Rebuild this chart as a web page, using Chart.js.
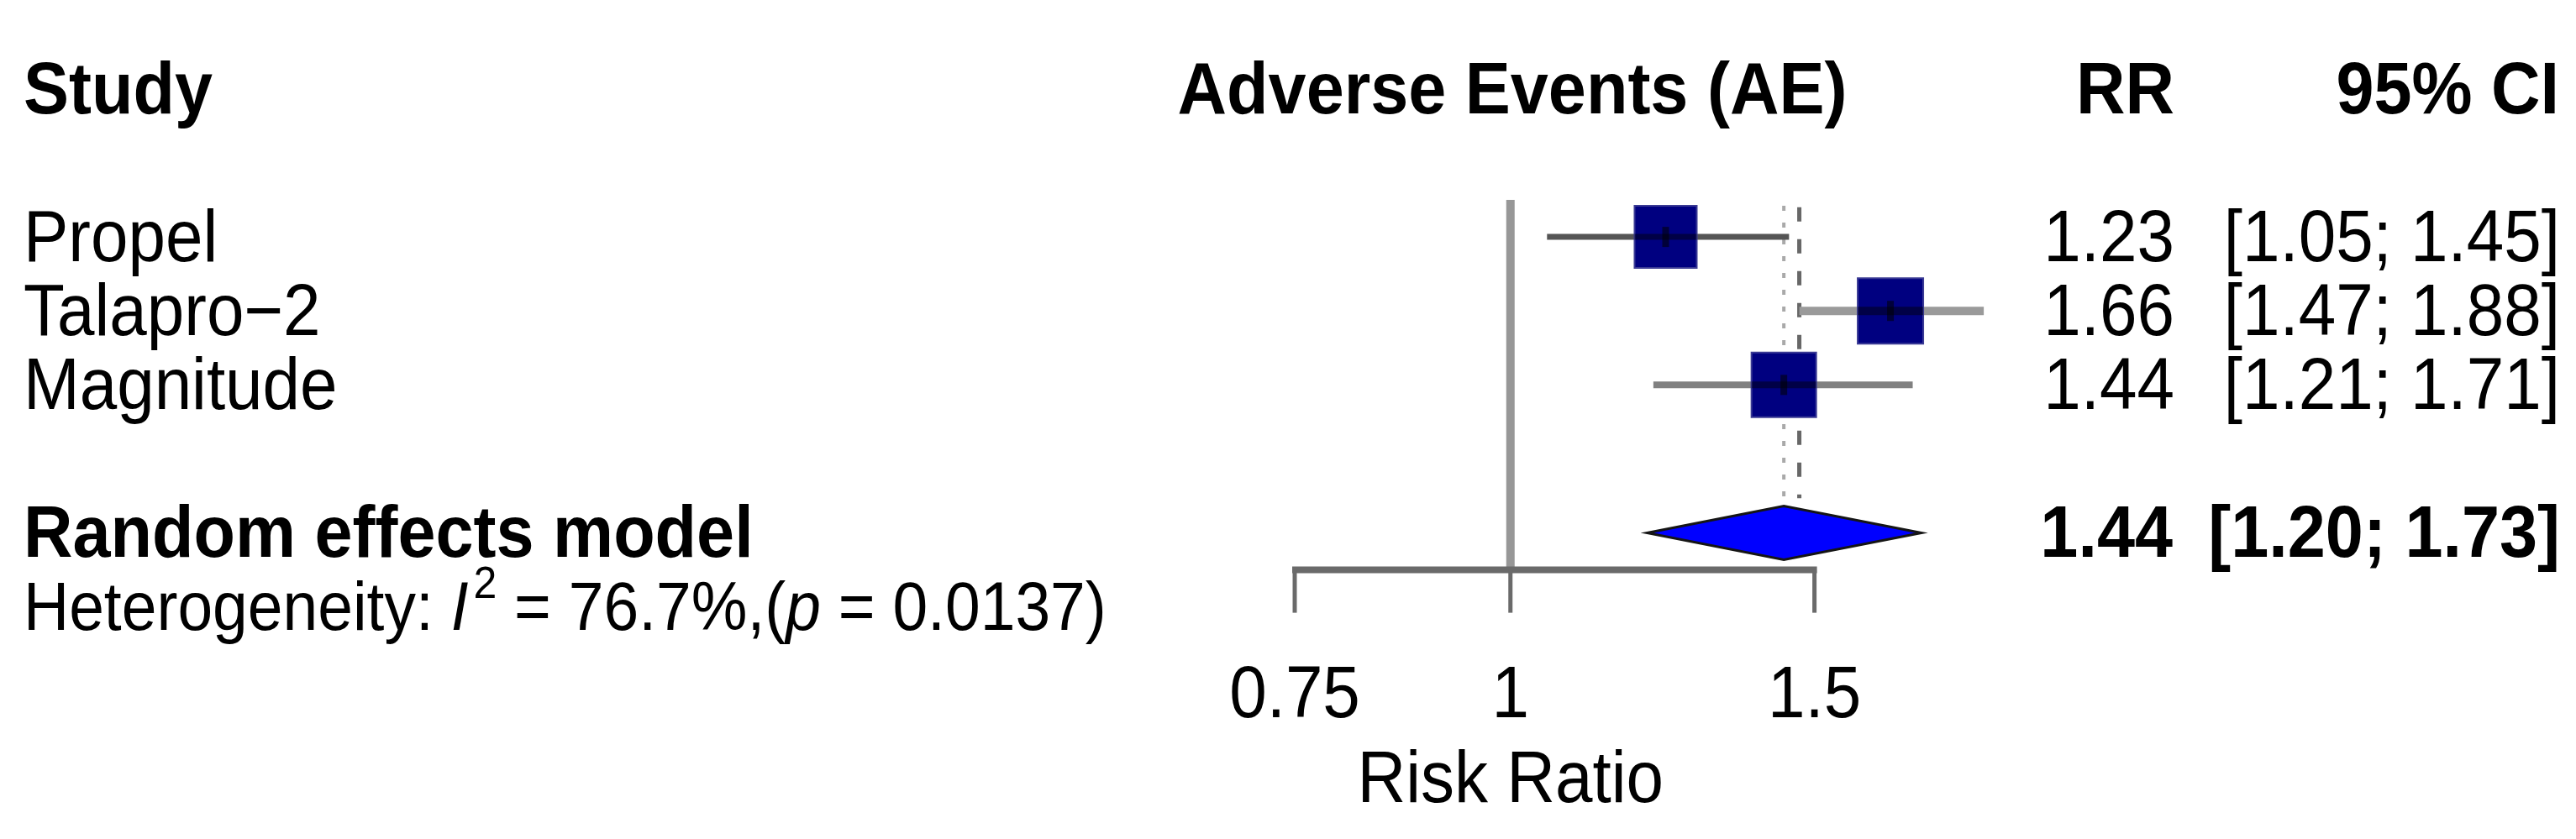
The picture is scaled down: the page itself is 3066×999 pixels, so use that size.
<!DOCTYPE html>
<html>
<head>
<meta charset="utf-8">
<script src="https://cdn.jsdelivr.net/npm/chart.js@4.4.1/dist/chart.umd.min.js"></script>
<style>
html,body{margin:0;padding:0;background:#ffffff;overflow:hidden;}
#wrap{width:3066px;height:999px;position:relative;}
</style>
</head>
<body>
<div id="wrap"><canvas id="c"></canvas></div>
<script>
// ---- data ----
const studies = ['Propel', 'Talapro\u22122', 'Magnitude'];
const rr = [1.23, 1.66, 1.44];
const ciLow = [1.05, 1.47, 1.21];
const ciHigh = [1.45, 1.88, 1.71];
const pooledLabel = 'Random effects model';
const pooledRR = 1.44;
const pooledLow = 1.20;
const pooledHigh = 1.73;
const commonRR = 1.47;
const i2Value = '76.7%';
const pValue = '0.0137';
const axisTicks = [0.75, 1, 1.5];
const axisTickLabels = ['0.75', '1', '1.5'];
const headers = ['Study', 'Adverse Events (AE)', 'RR', '95% CI'];
const xLabel = 'Risk Ratio';

// ---- layout (rows on the y scale) ----
const studyRows = [1, 2, 3];
const headerRow = -1, pooledRow = 5, hetRow = 6, axisRow = 5.5;

const ciColors = ['#555555', '#9a9a9a', '#808080'];
const ciWidths = [7, 10, 8];
const sqSides = [74, 78, 77];
const SY = 1.08;
const FF = '"Liberation Sans", Arial, Helvetica, sans-serif';

function txt(ctx, s, x, yb, font, align) {
  ctx.save();
  ctx.font = font;
  ctx.fillStyle = '#000';
  ctx.textAlign = align || 'left';
  ctx.textBaseline = 'alphabetic';
  ctx.translate(x, yb);
  ctx.scale(1, SY);
  ctx.fillText(s, 0, 0);
  ctx.restore();
}
function w(ctx, s, font) { ctx.save(); ctx.font = font; const m = ctx.measureText(s).width; ctx.restore(); return m; }

const forestPlugin = {
  id: 'forest',
  afterDatasetsDraw(chart) {
    const ctx = chart.ctx;
    const x = chart.scales.x, y = chart.scales.y;
    const B = 'bold 81px ' + FF, N = '80px ' + FF;
    const cap = 0.716 * 80 * SY / 2;
    const base = r => y.getPixelForValue(r) - 2 + cap;

    // dark band + centre tick over squares
    studies.forEach((s, i) => {
      const cx = x.getPixelForValue(rr[i]), cy = y.getPixelForValue(studyRows[i]);
      const h = sqSides[i] / 2;
      ctx.save();
      ctx.strokeStyle = 'rgba(0,0,0,0.45)';
      ctx.lineWidth = ciWidths[i];
      ctx.beginPath(); ctx.moveTo(cx - h, cy); ctx.lineTo(cx + h, cy); ctx.stroke();
      ctx.fillStyle = 'rgba(0,0,0,0.55)';
      ctx.fillRect(cx - 4, cy - 12, 8, 24);
      ctx.restore();
    });

    // diamond
    const dy = y.getPixelForValue(pooledRow);
    const dh = 32;
    ctx.save();
    ctx.beginPath();
    ctx.moveTo(x.getPixelForValue(pooledLow), dy);
    ctx.lineTo(x.getPixelForValue(pooledRR), dy - dh);
    ctx.lineTo(x.getPixelForValue(pooledHigh), dy);
    ctx.lineTo(x.getPixelForValue(pooledRR), dy + dh);
    ctx.closePath();
    ctx.fillStyle = '#0000ff';
    ctx.fill();
    ctx.strokeStyle = '#151515';
    ctx.lineWidth = 3;
    ctx.stroke();
    ctx.restore();

    // axis
    const ay = y.getPixelForValue(axisRow);
    ctx.save();
    ctx.strokeStyle = '#6a6a6a';
    ctx.lineWidth = 8;
    ctx.lineCap = 'butt';
    ctx.beginPath();
    ctx.moveTo(x.getPixelForValue(axisTicks[0]) - 3, ay);
    ctx.lineTo(x.getPixelForValue(axisTicks[axisTicks.length - 1]) + 3, ay);
    ctx.stroke();
    ctx.lineWidth = 5;
    axisTicks.forEach(t => {
      const tx = x.getPixelForValue(t);
      ctx.beginPath(); ctx.moveTo(tx, ay); ctx.lineTo(tx, ay + 51); ctx.stroke();
    });
    ctx.restore();
    axisTicks.forEach((t, i) => txt(ctx, axisTickLabels[i], x.getPixelForValue(t), ay + 175, N, 'center'));
    txt(ctx, xLabel, x.getPixelForValue(1), ay + 276, N, 'center');

    // headers
    const hb = base(headerRow);
    txt(ctx, headers[0], 28, hb, B, 'left');
    txt(ctx, headers[1], 1800, hb, B, 'center');
    txt(ctx, headers[2], 2588, hb, B, 'right');
    txt(ctx, headers[3], 3046, hb, B, 'right');

    // study rows
    studies.forEach((s, i) => {
      const b = base(studyRows[i]);
      txt(ctx, s, 28, b, N, 'left');
      txt(ctx, rr[i].toFixed(2), 2588, b, N, 'right');
      txt(ctx, '[' + ciLow[i].toFixed(2) + '; ' + ciHigh[i].toFixed(2) + ']', 3047, b, N, 'right');
    });

    // pooled row
    const pb = base(pooledRow);
    txt(ctx, pooledLabel, 28, pb, B, 'left');
    txt(ctx, pooledRR.toFixed(2), 2586, pb, B, 'right');
    txt(ctx, '[' + pooledLow.toFixed(2) + '; ' + pooledHigh.toFixed(2) + ']', 3047, pb, B, 'right');

    // heterogeneity
    const H = '75px ' + FF, HI = 'italic 75px ' + FF, HS = '50px ' + FF;
    const hbase = y.getPixelForValue(hetRow) - 2 + 0.716 * 75 * SY / 2;
    let cx = 28;
    const seg = (s, f, dyb) => { txt(ctx, s, cx, hbase + (dyb || 0), f, 'left'); cx += w(ctx, s, f); };
    seg('Heterogeneity: ', H);
    seg('I', HI);
    cx += 6;
    seg('2', HS, -38);
    seg(' = ' + i2Value + ',(', H);
    seg('p', HI);
    seg(' = ' + pValue + ')', H);
  }
};

const datasets = [
  {
    type: 'scatter', label: 'Studies',
    data: rr.map((v, i) => ({x: v, y: studyRows[i]})),
    pointStyle: 'rect',
    pointRadius: sqSides.map(s => s / Math.SQRT2),
    pointHoverRadius: sqSides.map(s => s / Math.SQRT2),
    backgroundColor: '#000080',
    borderColor: '#3a3a94',
    borderWidth: 2,
    order: 0, clip: false
  },
  ...studies.map((s, i) => ({
    type: 'line', label: s + ' CI',
    data: [{x: ciLow[i], y: studyRows[i]}, {x: ciHigh[i], y: studyRows[i]}],
    borderColor: ciColors[i], borderWidth: ciWidths[i], borderCapStyle: 'butt',
    pointRadius: 0, order: 1, clip: false
  })),
  {
    type: 'line', label: 'Random effect',
    data: [{x: pooledRR, y: 0.58}, {x: pooledRR, y: 4.68}],
    borderColor: '#a9a9a9', borderWidth: 4, borderDash: [6, 14], borderCapStyle: 'butt',
    pointRadius: 0, order: 2, clip: false
  },
  {
    type: 'line', label: 'Common effect',
    data: [{x: commonRR, y: 0.6}, {x: commonRR, y: 4.53}],
    borderColor: '#676767', borderWidth: 5, borderDash: [17, 21], borderCapStyle: 'butt',
    pointRadius: 0, order: 2, clip: false
  },
  {
    type: 'line', label: 'No effect',
    data: [{x: 1, y: 0.5}, {x: 1, y: axisRow}],
    borderColor: '#979797', borderWidth: 10, borderCapStyle: 'butt',
    pointRadius: 0, order: 3, clip: false
  }
];

// log x scale: 1 -> 1808px, 927px per natural-log unit, chart area = full canvas
const pxPerDecade = 927 * Math.LN10;
const xMin = Math.pow(10, -1808 / pxPerDecade);
const xMax = Math.pow(10, (3066 - 1808) / pxPerDecade);
const rowPx = 99.5, row1Px = 254;
const yMin = 1 - row1Px / rowPx;
const yMax = 1 + (999 - row1Px) / rowPx;

new Chart(document.getElementById('c'), {
  type: 'scatter',
  data: {datasets},
  options: {
    responsive: true,
    maintainAspectRatio: false,
    devicePixelRatio: 1,
    animation: false,
    layout: {padding: 0},
    plugins: {legend: {display: false}, tooltip: {enabled: false}, title: {display: false}},
    events: [],
    scales: {
      x: {type: 'logarithmic', min: xMin, max: xMax, bounds: 'data', display: false},
      y: {type: 'linear', min: yMin, max: yMax, reverse: true, display: false}
    }
  },
  plugins: [forestPlugin]
});
</script>
</body>
</html>
